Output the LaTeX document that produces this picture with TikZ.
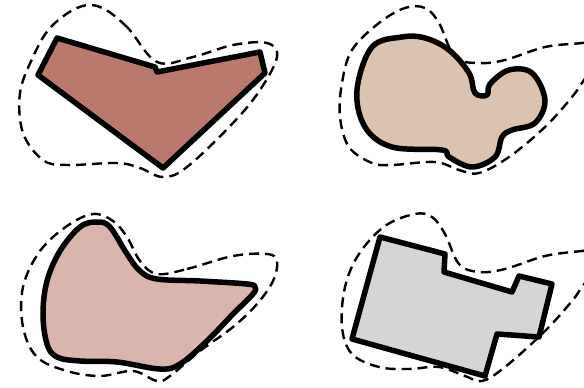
\documentclass[tikz,border=0pt]{standalone}
\begin{document}
\begin{tikzpicture}[x=1pt,y=-1pt,
  blob/.style={line width=5.5pt,line join=round,draw=black},
  halo/.style={line width=2.4pt,dash pattern=on 10pt off 6pt,draw=black}]
\useasboundingbox (0,0) rectangle (584,388);
\clip (0,0) rectangle (584,388);
\definecolor{cA}{HTML}{B97A6D}
\definecolor{cB}{HTML}{DCC3AF}
\definecolor{cC}{HTML}{DBB4AE}
\definecolor{cD}{HTML}{D4D5D7}
% Q1
\draw[halo] plot[smooth cycle,tension=0.6] coordinates {(157,62) (127,27) (100,7) (77,8) (50,28) (33,57) (20,93) (23,133) (43,160) (67,165) (117,163) (140,168) (163,177) (187,167) (233,123) (260,90) (277,57) (267,43) (233,45) (193,57)};
\draw[blob,fill=cA] (57,38) -- (155,67) -- (157,72) -- (260,52) -- (265,73) -- (163,168) -- (38,75) -- cycle;
% Q2
\draw[halo] plot[smooth,tension=0.6] coordinates {(600,40) (582,43) (545,47) (505,60) (479,63) (455,57) (439,23) (425,8) (405,8) (379,23) (352,50) (342,83) (340,117) (349,147) (372,163) (392,165) (435,162) (459,170) (479,173) (509,157) (545,127) (572,97) (584,80) (595,65)};
\draw[blob,fill=cB] plot[smooth cycle,tension=0.6] coordinates {(402,37) (372,47) (357,90) (365,127) (392,147) (442,150) (449,157) (472,167) (495,157) (502,137) (512,130) (535,123) (545,100) (532,73) (509,70) (490,84) (487,95) (475,93) (469,73) (449,50) (425,38)};
% Q3
\draw[halo] plot[smooth cycle,tension=0.6] coordinates {(157,274) (187,269) (233,256) (267,254) (277,261) (273,281) (257,304) (233,327) (200,351) (170,376) (157,381) (133,371) (100,376) (67,371) (37,357) (23,327) (23,287) (40,251) (67,226) (93,214) (113,221) (127,237) (140,261)};
\draw[blob,fill=cC] plot[smooth cycle,tension=0.6] coordinates {(97,222) (80,227) (60,251) (47,281) (43,314) (47,344) (57,357) (80,361) (117,362) (160,369) (180,364) (207,341) (233,314) (253,294) (255,287) (247,284) (200,281) (157,279) (140,271) (127,254) (110,227)};
% Q4
\draw[halo] plot[smooth,tension=0.6] coordinates {(600,250) (582,251) (545,256) (505,269) (479,272) (459,264) (445,234) (432,217) (415,214) (385,226) (359,254) (345,287) (342,327) (352,354) (379,367) (409,369) (439,367) (465,376) (482,381) (505,367) (545,331) (572,301) (582,287) (595,270)};
\draw[blob,fill=cD] (380,237) -- (445,254) -- (444,272) -- (512,292) -- (519,276) -- (552,284) -- (539,337) -- (497,334) -- (485,376) -- (352,339) -- cycle;
\end{tikzpicture}
\end{document}
